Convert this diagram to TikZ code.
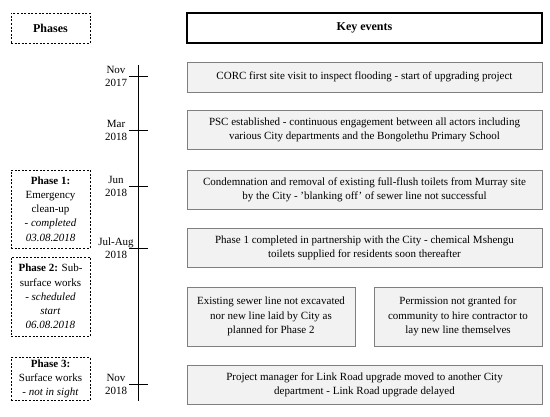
\documentclass[tikz,border=0pt]{standalone}
\usepackage{fontspec}
\setmainfont{Liberation Serif}
\definecolor{evfill}{HTML}{F2F2F2}
\definecolor{evline}{HTML}{7F7F7F}
\tikzset{
  head/.style={draw, line width=1.1pt, minimum height=30pt, inner sep=2pt, font=\fontsize{12}{14}\selectfont\bfseries},
  event/.style={draw=evline, fill=evfill, line width=0.9pt, align=center, minimum width=355pt, minimum height=39pt, inner sep=2pt},
  halfevent/.style={event, minimum width=168pt, minimum height=59pt},
  phase/.style={draw, dash pattern=on 2pt off 1.6pt, line width=0.9pt, align=center, minimum width=79pt, inner sep=2pt},
  date/.style={align=center, inner sep=0pt, font=\fontsize{11}{13}\selectfont},
}

\begin{document}
\begin{tikzpicture}[x=1pt, y=-1pt, font=\fontsize{11}{14.2}\selectfont]
    \useasboundingbox (0,0) rectangle (550,417);
    % headers
    \node[head, dash pattern=on 2pt off 1.6pt, line width=0.9pt, minimum width=79pt] (phases) at (50.5,28) {Phases};
    \node[head, minimum width=355pt] (keyev) at (364.5,28) {Key events};
    % timeline
    \coordinate (ttop) at (138,65);
    \coordinate (tbot) at (138,401);
    \draw[line width=0.9pt] (ttop) -- (tbot);
    \foreach \y/\d [count=\i] in {76/{Nov\\2017}, 130/{Mar\\2018}, 186/{Jun\\2018}, 248/{Jul-Aug\\2018}, 384/{Nov\\2018}} {
        \draw[line width=0.9pt] (129,\y) -- (148,\y);
        \node[date] (date\i) at (116,\y) {\d};
    }
    % key events
    \node[event, minimum height=30pt] (ev1) at (364.5,77) {CORC first site visit to inspect flooding - start of upgrading project};
    \node[event] (ev2) at (364.5,129.5) {PSC established - continuous engagement between all actors including\\
        various City departments and the Bongolethu Primary School};
    \node[event] (ev3) at (364.5,189.5) {Condemnation and removal of existing full-flush toilets from Murray site\\
        by the City - 'blanking off' of sewer line not successful};
    \node[event] (ev4) at (364.5,247.5) {Phase 1 completed in partnership with the City - chemical Mshengu\\
        toilets supplied for residents soon thereafter};
    \node[halfevent] (ev5a) at (271,316.5) {Existing sewer line not excavated\\ nor new line laid by City as\\ planned for Phase 2};
    \node[halfevent] (ev5b) at (458,316.5) {Permission not granted for\\ community to hire contractor to\\ lay new line themselves};
    \node[event] (ev6) at (364.5,384.5) {Project manager for Link Road upgrade moved to another City\\
        department - Link Road upgrade delayed};
    % phases
    \node[phase, minimum height=78pt] (ph1) at (50.5,209) {\textbf{Phase 1:}\\ Emergency\\ clean-up\\ \textit{- completed}\\ \textit{03.08.2018}};
    \node[phase, minimum height=79pt] (ph2) at (50.5,296.5) {\textbf{Phase 2:} Sub-\\ surface works\\ \textit{- scheduled}\\ \textit{start}\\ \textit{06.08.2018}};
    \node[phase, minimum height=42pt] (ph3) at (50.5,379) {\textbf{Phase 3:}\\ Surface works\\ \textit{- not in sight}};
\end{tikzpicture}
\end{document}
